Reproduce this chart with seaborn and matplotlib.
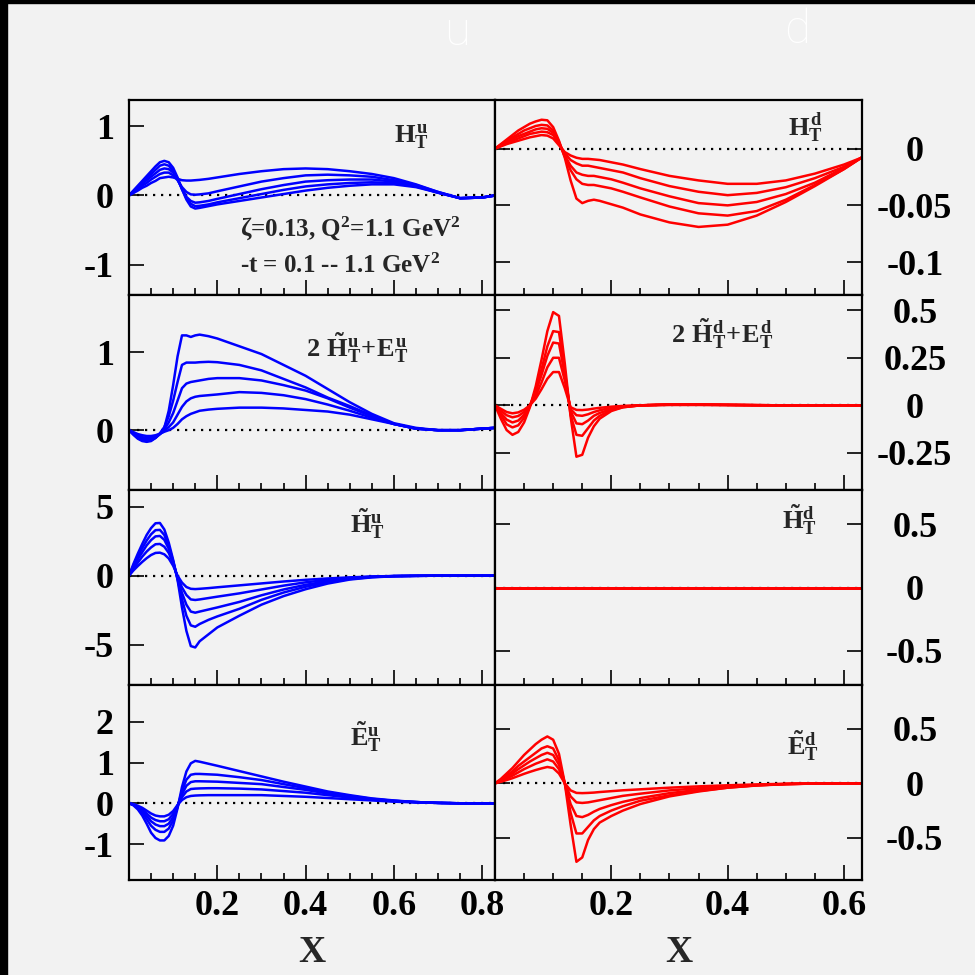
import numpy as np
import pandas as pd
import matplotlib
matplotlib.use("Agg")
import matplotlib.pyplot as plt
import seaborn as sns
from matplotlib.ticker import MultipleLocator, FuncFormatter
from matplotlib.patches import Rectangle

# ---------------- data ----------------
XU = [0, 0.01, 0.02, 0.03, 0.04, 0.05, 0.06, 0.07, 0.08, 0.09, 0.10, 0.11, 0.12, 0.13, 0.14, 0.15,
      0.16, 0.18, 0.2, 0.25, 0.3, 0.35, 0.4, 0.45, 0.5, 0.55, 0.6, 0.65, 0.7, 0.75, 0.8, 0.83]
XD = [0, 0.01, 0.02, 0.03, 0.04, 0.05, 0.06, 0.07, 0.08, 0.09, 0.10, 0.11, 0.12, 0.13, 0.14, 0.15,
      0.16, 0.17, 0.18, 0.2, 0.22, 0.25, 0.3, 0.35, 0.4, 0.45, 0.5, 0.55, 0.6, 0.63]

HT_u = [
    [0, 0.07, 0.14, 0.21, 0.28, 0.35, 0.42, 0.48, 0.50, 0.48, 0.40, 0.26, 0.09, -0.06, -0.16, -0.19, -0.18, -0.155, -0.13, -0.08, -0.03, 0.02, 0.07, 0.11, 0.14, 0.16, 0.16, 0.12, 0.04, -0.04, -0.03, 0.0],
    [0, 0.065, 0.13, 0.19, 0.25, 0.31, 0.37, 0.43, 0.45, 0.43, 0.36, 0.24, 0.09, -0.04, -0.12, -0.155, -0.15, -0.13, -0.10, -0.04, 0.02, 0.08, 0.13, 0.16, 0.18, 0.19, 0.18, 0.13, 0.04, -0.04, -0.03, 0.0],
    [0, 0.055, 0.11, 0.165, 0.22, 0.27, 0.32, 0.37, 0.39, 0.38, 0.33, 0.23, 0.10, -0.02, -0.08, -0.105, -0.10, -0.08, -0.05, 0.02, 0.09, 0.15, 0.20, 0.22, 0.23, 0.23, 0.20, 0.14, 0.04, -0.04, -0.03, 0.0],
    [0, 0.045, 0.09, 0.14, 0.18, 0.23, 0.27, 0.31, 0.33, 0.33, 0.29, 0.22, 0.12, 0.05, 0.015, 0.01, 0.015, 0.03, 0.06, 0.13, 0.20, 0.25, 0.29, 0.30, 0.29, 0.27, 0.22, 0.15, 0.05, -0.04, -0.03, 0.0],
    [0, 0.035, 0.07, 0.11, 0.14, 0.18, 0.21, 0.25, 0.26, 0.27, 0.26, 0.24, 0.22, 0.215, 0.215, 0.22, 0.225, 0.24, 0.26, 0.31, 0.35, 0.38, 0.39, 0.38, 0.35, 0.31, 0.25, 0.16, 0.05, -0.04, -0.03, 0.0],
]
HE_u = [
    [0, -0.06, -0.11, -0.14, -0.15, -0.14, -0.10, -0.05, 0.03, 0.25, 0.58, 0.95, 1.22, 1.22, 1.20, 1.22, 1.23, 1.21, 1.18, 1.08, 0.98, 0.84, 0.70, 0.53, 0.36, 0.21, 0.09, 0.03, 0.0, 0.0, 0.02, 0.03],
    [0, -0.05, -0.10, -0.13, -0.14, -0.13, -0.10, -0.04, 0.04, 0.18, 0.38, 0.62, 0.84, 0.87, 0.87, 0.87, 0.875, 0.88, 0.875, 0.84, 0.77, 0.66, 0.55, 0.42, 0.31, 0.19, 0.08, 0.02, 0.0, 0.0, 0.02, 0.03],
    [0, -0.045, -0.09, -0.11, -0.125, -0.12, -0.095, -0.05, 0.01, 0.10, 0.22, 0.38, 0.54, 0.60, 0.62, 0.63, 0.64, 0.66, 0.67, 0.67, 0.64, 0.58, 0.51, 0.41, 0.29, 0.18, 0.08, 0.02, 0.0, 0.0, 0.02, 0.03],
    [0, -0.035, -0.07, -0.09, -0.10, -0.10, -0.085, -0.05, -0.01, 0.04, 0.10, 0.20, 0.30, 0.37, 0.41, 0.43, 0.44, 0.45, 0.46, 0.49, 0.48, 0.45, 0.40, 0.33, 0.25, 0.16, 0.08, 0.02, 0.0, 0.0, 0.02, 0.03],
    [0, -0.025, -0.05, -0.065, -0.075, -0.075, -0.065, -0.045, -0.02, 0.0, 0.03, 0.08, 0.14, 0.18, 0.21, 0.23, 0.25, 0.265, 0.275, 0.29, 0.29, 0.28, 0.26, 0.24, 0.20, 0.14, 0.08, 0.02, 0.0, 0.0, 0.02, 0.03],
]
HTt_u = [
    [0, 0.85, 1.6, 2.3, 2.95, 3.45, 3.8, 3.82, 3.35, 2.4, 1.15, -0.3, -2.3, -4.0, -5.1, -5.2, -4.75, -4.25, -3.75, -2.9, -2.1, -1.48, -0.98, -0.57, -0.28, -0.12, -0.04, -0.01, 0, 0, 0, 0],
    [0, 0.75, 1.4, 2.0, 2.55, 3.0, 3.3, 3.32, 2.95, 2.15, 1.05, -0.25, -1.7, -2.9, -3.6, -3.7, -3.5, -3.2, -2.95, -2.4, -1.75, -1.22, -0.8, -0.48, -0.24, -0.1, -0.03, -0.01, 0, 0, 0, 0],
    [0, 0.65, 1.2, 1.7, 2.2, 2.58, 2.85, 2.88, 2.6, 1.95, 1.0, -0.2, -1.25, -2.1, -2.6, -2.68, -2.6, -2.45, -2.3, -1.9, -1.42, -1.0, -0.66, -0.4, -0.2, -0.08, -0.03, -0.01, 0, 0, 0, 0],
    [0, 0.5, 0.95, 1.38, 1.75, 2.05, 2.28, 2.3, 2.1, 1.65, 0.9, -0.1, -0.85, -1.4, -1.72, -1.76, -1.72, -1.62, -1.52, -1.28, -1.0, -0.72, -0.48, -0.3, -0.16, -0.07, -0.03, -0.01, 0, 0, 0, 0],
    [0, 0.38, 0.7, 1.0, 1.27, 1.5, 1.65, 1.67, 1.55, 1.25, 0.72, 0.0, -0.5, -0.82, -0.95, -0.97, -0.95, -0.9, -0.84, -0.7, -0.56, -0.42, -0.3, -0.2, -0.12, -0.06, -0.02, -0.01, 0, 0, 0, 0],
]
ETt_u = [
    [0, -0.05, -0.15, -0.30, -0.50, -0.72, -0.85, -0.91, -0.91, -0.80, -0.55, -0.12, 0.40, 0.78, 0.98, 1.04, 1.02, 0.97, 0.92, 0.79, 0.66, 0.53, 0.41, 0.29, 0.2, 0.12, 0.07, 0.03, 0.01, 0, 0, 0],
    [0, -0.04, -0.12, -0.23, -0.39, -0.55, -0.65, -0.70, -0.70, -0.62, -0.42, -0.09, 0.30, 0.58, 0.70, 0.72, 0.72, 0.71, 0.70, 0.64, 0.57, 0.47, 0.37, 0.27, 0.18, 0.11, 0.06, 0.03, 0.01, 0, 0, 0],
    [0, -0.03, -0.1, -0.19, -0.31, -0.44, -0.52, -0.56, -0.56, -0.5, -0.34, -0.07, 0.22, 0.43, 0.52, 0.54, 0.54, 0.535, 0.53, 0.5, 0.47, 0.4, 0.33, 0.24, 0.16, 0.1, 0.06, 0.03, 0.01, 0, 0, 0],
    [0, -0.025, -0.08, -0.15, -0.25, -0.35, -0.41, -0.44, -0.44, -0.39, -0.26, -0.05, 0.15, 0.29, 0.35, 0.36, 0.365, 0.37, 0.37, 0.36, 0.34, 0.3, 0.26, 0.2, 0.14, 0.09, 0.05, 0.03, 0.01, 0, 0, 0],
    [0, -0.02, -0.06, -0.11, -0.18, -0.25, -0.3, -0.32, -0.32, -0.28, -0.19, -0.04, 0.08, 0.15, 0.18, 0.19, 0.195, 0.2, 0.2, 0.2, 0.2, 0.18, 0.16, 0.13, 0.1, 0.07, 0.04, 0.02, 0.01, 0, 0, 0],
]
HT_d = [
    [0, 0.004, 0.008, 0.012, 0.016, 0.019, 0.022, 0.024, 0.0255, 0.025, 0.019, 0.007, -0.008, -0.028, -0.044, -0.048, -0.046, -0.045, -0.046, -0.049, -0.052, -0.058, -0.065, -0.069, -0.067, -0.059, -0.047, -0.033, -0.018, -0.008],
    [0, 0.0035, 0.007, 0.010, 0.013, 0.016, 0.018, 0.020, 0.021, 0.0205, 0.016, 0.006, -0.007, -0.019, -0.027, -0.031, -0.032, -0.032, -0.033, -0.035, -0.038, -0.043, -0.051, -0.057, -0.059, -0.055, -0.045, -0.032, -0.018, -0.008],
    [0, 0.003, 0.006, 0.0085, 0.011, 0.013, 0.015, 0.017, 0.018, 0.0175, 0.014, 0.005, -0.006, -0.015, -0.021, -0.023, -0.024, -0.024, -0.025, -0.027, -0.030, -0.035, -0.042, -0.048, -0.050, -0.047, -0.040, -0.030, -0.017, -0.008],
    [0, 0.0025, 0.005, 0.007, 0.009, 0.011, 0.013, 0.014, 0.015, 0.0145, 0.012, 0.004, -0.004, -0.010, -0.013, -0.015, -0.015, -0.016, -0.017, -0.019, -0.021, -0.026, -0.033, -0.038, -0.041, -0.039, -0.034, -0.026, -0.016, -0.008],
    [0, 0.002, 0.004, 0.0055, 0.007, 0.0085, 0.010, 0.011, 0.012, 0.0115, 0.009, 0.003, -0.003, -0.006, -0.008, -0.009, -0.009, -0.0095, -0.010, -0.012, -0.014, -0.018, -0.024, -0.028, -0.031, -0.031, -0.028, -0.022, -0.014, -0.008],
]
HE_d = [
    [0, -0.07, -0.13, -0.155, -0.14, -0.09, -0.01, 0.10, 0.24, 0.39, 0.49, 0.47, 0.22, -0.06, -0.27, -0.26, -0.17, -0.11, -0.07, -0.03, -0.01, 0.0, 0.005, 0.005, 0.003, 0.001, 0, 0, 0, 0],
    [0, -0.05, -0.10, -0.116, -0.105, -0.065, -0.005, 0.08, 0.19, 0.31, 0.39, 0.385, 0.18, -0.05, -0.155, -0.16, -0.12, -0.08, -0.055, -0.025, -0.01, 0.0, 0.005, 0.005, 0.003, 0.001, 0, 0, 0, 0],
    [0, -0.04, -0.075, -0.09, -0.08, -0.05, 0.0, 0.07, 0.16, 0.26, 0.33, 0.325, 0.16, -0.03, -0.095, -0.099, -0.08, -0.055, -0.04, -0.02, -0.008, 0.0, 0.004, 0.004, 0.002, 0.001, 0, 0, 0, 0],
    [0, -0.028, -0.052, -0.063, -0.056, -0.035, 0.0, 0.05, 0.12, 0.2, 0.25, 0.25, 0.13, -0.02, -0.052, -0.055, -0.047, -0.035, -0.026, -0.013, -0.005, 0.0, 0.003, 0.003, 0.002, 0.001, 0, 0, 0, 0],
    [0, -0.018, -0.035, -0.042, -0.037, -0.023, 0.0, 0.035, 0.085, 0.14, 0.175, 0.175, 0.09, -0.01, -0.024, -0.025, -0.022, -0.017, -0.013, -0.007, -0.003, 0.0, 0.002, 0.002, 0.001, 0.0, 0, 0, 0, 0],
]
HTt_d = [[0.0] * 30 for _ in range(5)]
ETt_d = [
    [0, 0.04, 0.09, 0.14, 0.20, 0.26, 0.31, 0.36, 0.40, 0.43, 0.40, 0.27, 0.0, -0.38, -0.72, -0.68, -0.52, -0.42, -0.36, -0.30, -0.25, -0.19, -0.12, -0.075, -0.04, -0.018, -0.007, -0.002, 0, 0],
    [0, 0.03, 0.07, 0.11, 0.16, 0.20, 0.24, 0.28, 0.32, 0.34, 0.32, 0.21, 0.0, -0.27, -0.46, -0.46, -0.40, -0.34, -0.30, -0.25, -0.21, -0.16, -0.11, -0.07, -0.04, -0.02, -0.008, -0.002, 0, 0],
    [0, 0.025, 0.06, 0.09, 0.13, 0.165, 0.2, 0.23, 0.26, 0.28, 0.26, 0.17, 0.0, -0.19, -0.30, -0.31, -0.29, -0.26, -0.235, -0.2, -0.17, -0.135, -0.09, -0.06, -0.035, -0.018, -0.007, -0.002, 0, 0],
    [0, 0.02, 0.045, 0.07, 0.1, 0.13, 0.155, 0.18, 0.2, 0.22, 0.2, 0.13, 0.0, -0.12, -0.175, -0.18, -0.175, -0.165, -0.155, -0.135, -0.115, -0.095, -0.065, -0.045, -0.028, -0.015, -0.006, -0.002, 0, 0],
    [0, 0.014, 0.03, 0.047, 0.067, 0.087, 0.105, 0.122, 0.137, 0.15, 0.14, 0.09, 0.0, -0.065, -0.088, -0.09, -0.088, -0.085, -0.08, -0.072, -0.064, -0.055, -0.04, -0.028, -0.018, -0.01, -0.004, -0.001, 0, 0],
]

LABELS_U = [r"$H_T^u$", r"$2\ \tilde{H}_T^u\!+\!E_T^u$", r"$\tilde{H}_T^u$", r"$\tilde{E}_T^u$"]
LABELS_D = [r"$H_T^d$", r"$2\ \tilde{H}_T^d\!+\!E_T^d$", r"$\tilde{H}_T^d$", r"$\tilde{E}_T^d$"]
TITLES = ["u", "d"]

# ---------------- style ----------------
sns.set_style("white")
BG = "#f2f2f2"
plt.rcParams.update({
    "font.family": ["Liberation Serif", "DejaVu Serif"],
    "font.weight": "bold",
    "mathtext.fontset": "custom",
    "mathtext.rm": "Liberation Serif:bold",
    "mathtext.it": "Liberation Serif:bold",
    "mathtext.bf": "Liberation Serif:bold",
    "axes.unicode_minus": False,
    "figure.facecolor": BG,
    "axes.facecolor": BG,
})

fig = plt.figure(figsize=(9.75, 9.75), dpi=100)
W = 975.0
def fx(px): return px / W
def fy(py): return 1 - py / W

col_x = [(129, 495), (495, 862)]
row_y = [(100, 295), (295, 490), (490, 685), (685, 880)]

ylims_u = [(-1.44, 1.38), (-0.77, 1.74), (-7.92, 6.21), (-1.88, 2.9)]
ylims_d = [(-0.129, 0.0429), (-0.445, 0.58), (-0.77, 0.77), (-0.887, 0.902)]
ymaj_u = [1, 1, 5, 1]
ymin_u = [0.2, 0.2, 1, 0.2]
ymaj_d = [0.05, 0.25, 0.5, 0.5]
ymin_d = [0.01, 0.05, 0.1, 0.1]

data_u = [HT_u, HE_u, HTt_u, ETt_u]
data_d = [HT_d, HE_d, HTt_d, ETt_d]

lab_pos_u = [(0.77, 0.81), (0.623, 0.727), (0.65, 0.826), (0.648, 0.733)]
lab_pos_d = [(0.845, 0.86), (0.62, 0.80), (0.83, 0.846), (0.84, 0.687)]

TICK_FS = 26
LAB_FS = 19
ANN_FS = 18

def fmt(v, pos):
    if abs(v) < 1e-9:
        return "0"
    s = ("%.2f" % v).rstrip("0").rstrip(".")
    return s

def xfmt(v, pos):
    if abs(v) < 1e-9:
        return ""
    return "%.1f" % v

for c in range(2):
    for r in range(4):
        x0, x1 = col_x[c]
        y0, y1 = row_y[r]
        ax = fig.add_axes([fx(x0), fy(y1), fx(x1 - x0), (y1 - y0) / W])
        ax.set_facecolor(BG)
        if c == 0:
            xs, curves, color, ylim = XU, data_u[r], "#0000ff", ylims_u[r]
            ax.set_xlim(0, 0.829)
        else:
            xs, curves, color, ylim = XD, data_d[r], "#ff0000", ylims_d[r]
            ax.set_xlim(0, 0.631)
        ax.set_ylim(*ylim)
        ax.axhline(0, color="black", lw=1.6, ls=(0, (1, 2.6)), zorder=1)
        for ys in curves:
            df = pd.DataFrame({"x": xs, "y": ys})
            sns.lineplot(data=df, x="x", y="y", ax=ax, color=color, lw=1.8,
                         estimator=None, sort=False, zorder=2)
        ax.set_xlabel("")
        ax.set_ylabel("")
        for sp in ax.spines.values():
            sp.set_linewidth(1.6)
            sp.set_color("black")
        ax.xaxis.set_major_locator(MultipleLocator(0.2))
        ax.xaxis.set_minor_locator(MultipleLocator(0.05))
        ax.xaxis.set_major_formatter(FuncFormatter(xfmt))
        if c == 0:
            ax.yaxis.set_major_locator(MultipleLocator(ymaj_u[r]))
            ax.yaxis.set_minor_locator(MultipleLocator(ymin_u[r]))
        else:
            ax.yaxis.set_major_locator(MultipleLocator(ymaj_d[r]))
            ax.yaxis.set_minor_locator(MultipleLocator(ymin_d[r]))
        ax.yaxis.set_major_formatter(FuncFormatter(fmt))
        ax.tick_params(which="both", direction="in", width=1.2, colors="black",
                       labelsize=TICK_FS, top=False, bottom=True)
        ax.tick_params(which="major", length=11)
        ax.tick_params(which="minor", length=5)
        ax.tick_params(axis="x", pad=7, labelbottom=(r == 3))
        if c == 0:
            ax.tick_params(axis="y", left=True, right=False, labelleft=True,
                           labelright=False, pad=11)
        else:
            ax.tick_params(axis="y", left=True, right=True, labelleft=False,
                           labelright=True, pad=38)
            for t in ax.yaxis.get_major_ticks():
                t.label2.set_horizontalalignment("center")
        for lbl in ax.get_xticklabels() + ax.get_yticklabels():
            lbl.set_fontweight("bold")
        labs = LABELS_U if c == 0 else LABELS_D
        lp = lab_pos_u[r] if c == 0 else lab_pos_d[r]
        ax.text(lp[0], lp[1], labs[r], transform=ax.transAxes, ha="center",
                va="center", fontsize=LAB_FS, fontweight="bold")
        if c == 0 and r == 0:
            ax.text(0.303, 0.345, "ζ=0.13, Q$^{2}$=1.1 GeV$^{2}$", transform=ax.transAxes,
                    ha="left", va="center", fontsize=ANN_FS, fontweight="bold")
            ax.text(0.303, 0.15, "-t = 0.1 -- 1.1 GeV$^{2}$", transform=ax.transAxes,
                    ha="left", va="center", fontsize=ANN_FS, fontweight="bold")

# X labels
fig.text(fx(312), fy(952), "X", ha="center", va="center", fontsize=27, fontweight="bold")
fig.text(fx(678.5), fy(952), "X", ha="center", va="center", fontsize=27, fontweight="bold")

# column titles
fig.text(fx(457), fy(32), TITLES[0], ha="center", va="center", fontsize=34,
         color="white", family=["Roboto", "DejaVu Sans"], fontweight="light")
fig.text(fx(797), fy(30), TITLES[1], ha="center", va="center", fontsize=34,
         color="white", family=["Roboto", "DejaVu Sans"], fontweight="light")

# black frame edges
fig.patches.append(Rectangle((0, 0), fx(7), 1, transform=fig.transFigure,
                             color="black", zorder=10))
fig.patches.append(Rectangle((0, 1 - 3 / W), 1, 3 / W, transform=fig.transFigure,
                             color="black", zorder=10))

fig.savefig("out.png", dpi=100, facecolor=BG)
